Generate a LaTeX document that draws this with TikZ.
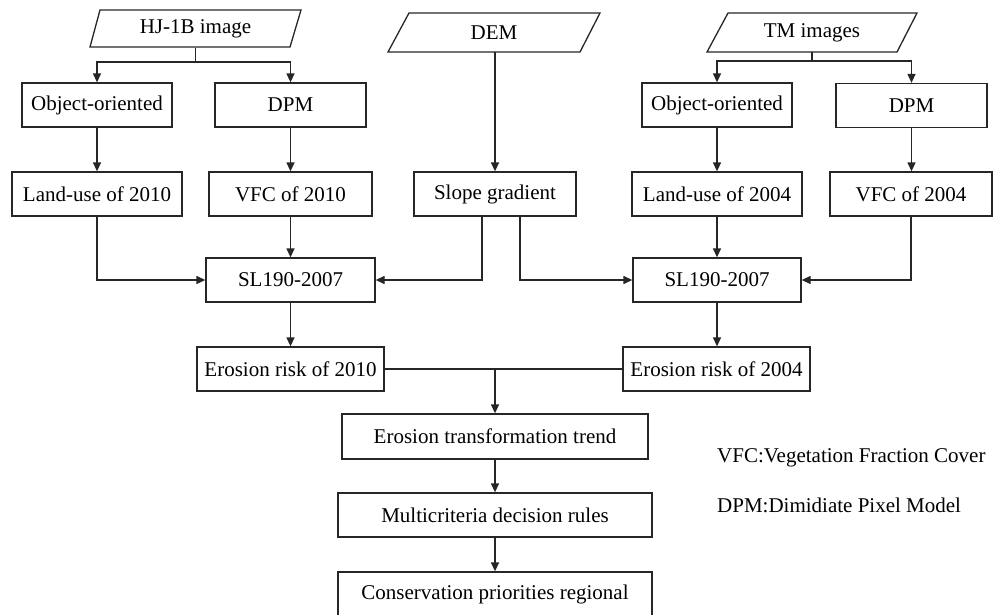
\documentclass[tikz,border=0pt]{standalone}
\usepackage{fontspec}
\setmainfont{Liberation Serif}
\usetikzlibrary{arrows.meta}
\begin{document}
\begin{tikzpicture}[x=1pt,y=-1pt,
  font=\fontsize{21}{24}\selectfont,
  box/.style={draw=black!85,line width=1.3pt,inner sep=0pt,minimum height=44pt,align=center},
  para/.style={inner sep=0pt,minimum height=38pt},
  conn/.style={draw=black!85,line width=1.3pt},
  arr/.style={conn,-{Triangle[length=9pt,width=8pt]}},
  legend/.style={anchor=west,inner sep=0pt}]
\useasboundingbox (0,0) rectangle (1000,614);
% input parallelograms
\node[para,minimum width=200pt] (hj) at (195.5,28.5) {HJ-1B image};
\draw[conn] (100,10) -- (301,10) -- (290,47) -- (90,47) -- cycle;
\node[para,minimum width=200pt] (dem) at (494,32.5) {DEM};
\draw[conn] (409,13) -- (600,13) -- (580,52) -- (388,52) -- cycle;
\node[para,minimum width=200pt] (tm) at (812,32.5) {TM images};
\draw[conn] (728,13) -- (917,13) -- (897,52) -- (707,52) -- cycle;
% boxes
\node[box,minimum width=150pt] (obj1) at (97,105) {Object-oriented};
\node[box,minimum width=151pt] (dpm1) at (290.5,105) {DPM};
\node[box,minimum width=170pt] (lu1) at (97,194) {Land-use of 2010};
\node[box,minimum width=163pt] (vfc1) at (290.5,194) {VFC of 2010};
\node[box,minimum width=162pt] (slope) at (495,194) {Slope gradient};
\node[box,minimum width=150pt] (obj2) at (717,105) {Object-oriented};
\node[box,minimum width=151pt] (dpm2) at (911.5,105.5) {DPM};
\node[box,minimum width=170pt] (lu2) at (717,194) {Land-use of 2004};
\node[box,minimum width=162pt] (vfc2) at (911,194) {VFC of 2004};
\node[box,minimum width=169pt] (sl1) at (290.5,280) {SL190-2007};
\node[box,minimum width=168pt] (sl2) at (717,280) {SL190-2007};
\node[box,minimum width=187pt] (er1) at (290.5,369) {Erosion risk of 2010};
\node[box,minimum width=187pt] (er2) at (716.5,369) {Erosion risk of 2004};
\node[box,minimum width=306pt,minimum height=45pt] (ett) at (495,436.5) {Erosion transformation trend};
\node[box,minimum width=314pt] (mcd) at (495,515) {Multicriteria decision rules};
\node[box,minimum width=314pt] (cons) at (495,594) {Conservation priorities regional};
% legend
\node[legend] (leg1) at (717,458) {VFC:Vegetation Fraction Cover};
\node[legend] (leg2) at (717,505) {DPM:Dimidiate Pixel Model};
% connectors
\coordinate (hjb) at (195.5,62);
\draw[conn] (hj.south) -- (hjb);
\draw[arr] (hjb) -| (obj1.north);
\draw[arr] (hjb) -| (dpm1.north);
\coordinate (tmb) at (812,61);
\draw[conn] (tm.south) -- (tmb);
\draw[arr] (tmb) -| (obj2.north);
\draw[arr] (tmb) -| (dpm2.north);
\draw[arr] ([xshift=1pt]dem.south) -- ([xshift=1pt]dem.south |- slope.north);
\draw[arr] (obj1) -- (lu1);
\draw[arr] (dpm1) -- (vfc1);
\draw[arr] (obj2) -- (lu2);
\draw[arr] (dpm2.south) -- (dpm2.south |- vfc2.north);
\draw[arr] (lu1.south) |- (sl1.west);
\draw[arr] (vfc1) -- (sl1);
\draw[arr] ([xshift=-13pt]slope.south) |- (sl1.east);
\draw[arr] ([xshift=25pt]slope.south) |- (sl2.west);
\draw[arr] (lu2) -- (sl2);
\draw[arr] (vfc2.south) |- (sl2.east);
\draw[arr] (sl1) -- (er1);
\draw[arr] (sl2.south) -- (sl2.south |- er2.north);
\draw[conn] (er1.east) -- (er2.west);
\coordinate (mid) at (495,369);
\draw[arr] (mid) -- (ett.north);
\draw[arr] (ett) -- (mcd);
\draw[arr] (mcd) -- (cons);
\end{tikzpicture}
\end{document}
